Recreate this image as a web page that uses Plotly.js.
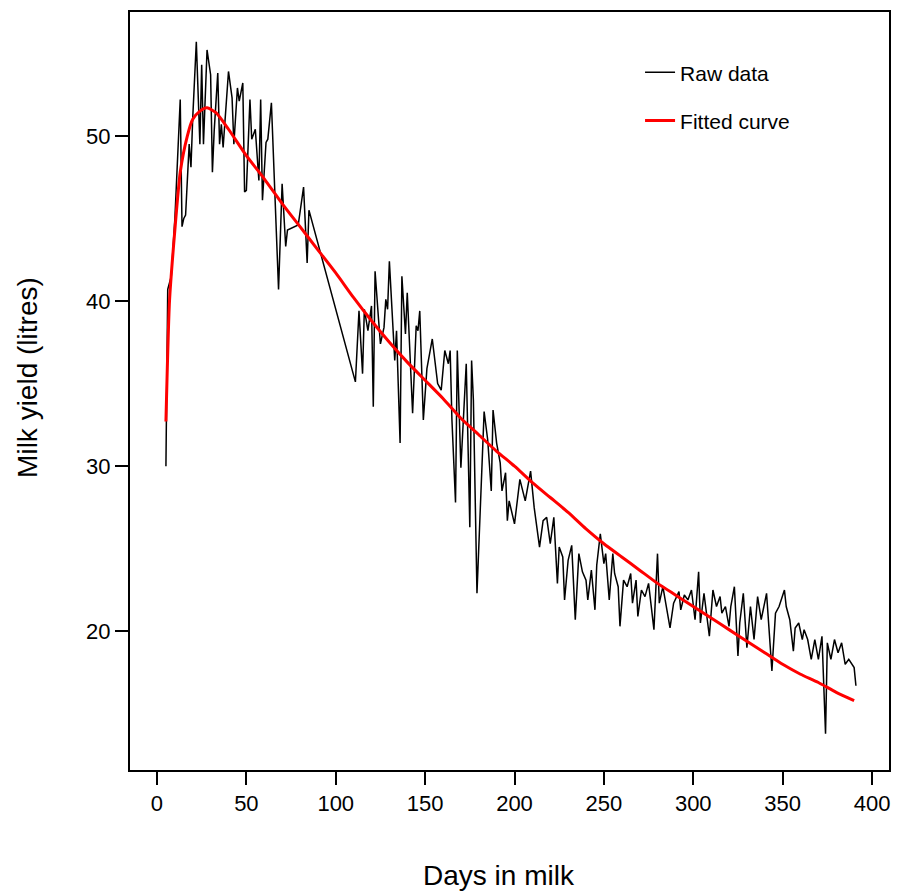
<!DOCTYPE html>
<html>
<head>
<meta charset="utf-8">
<script src="https://cdn.plot.ly/plotly-3.0.1.min.js"></script>
<style>html,body{margin:0;padding:0;background:#fff;}#chart{width:899px;height:896px;}</style>
</head>
<body>
<div id="chart"></div>
<script>
// Raw daily milk yield
var rawDays = [5,6,8,10,13,14,15,16,18,19,20,22,24,25,26,28,30,31,32,34,35,36,37,40,42,43,45,46,48,49,50,52,53,55,57,58,59,61,62,64,68,70,72,73,79,82,84,85,
111,113,115,116,118,120,121,122,124,125,127,128,129,130,133,134,136,137,139,140,143,145,146,147,149,151,154,156,157,159,161,163,164,165,167,168,170,173,175,176,177,179,
182,183,185,187,188,190,192,193,195,196,197,200,203,206,209,211,214,216,218,220,222,224,225,227,228,230,232,234,236,238,240,241,243,245,246,248,250,251,253,255,256,258,259,
261,263,265,266,268,269,271,273,275,278,280,281,283,287,289,292,293,295,297,299,301,303,304,306,307,309,311,313,315,316,318,320,321,323,325,326,328,330,332,334,336,338,341,
344,346,348,351,352,354,356,357,359,361,362,364,366,368,370,372,374,375,377,379,381,383,385,387,390,391];
var rawYield = [30.0,40.7,41.5,45.0,52.2,44.5,45.0,45.2,49.5,48.1,51.1,55.7,49.5,54.3,49.5,55.2,53.7,47.8,50.3,53.8,49.5,50.7,49.3,53.9,52.3,49.5,52.9,52.1,53.2,46.6,46.7,52.2,49.8,50.4,47.3,52.2,46.1,49.6,49.8,52.0,40.7,47.1,43.3,44.3,44.6,46.9,42.3,45.5,
35.1,39.4,35.6,39.5,38.2,39.7,33.6,41.8,38.8,37.4,38.4,40.1,39.5,42.4,36.4,38.2,31.4,41.5,38.0,40.5,33.2,38.5,38.2,39.4,32.8,35.9,37.7,36.0,35.0,34.6,37.0,36.2,37.0,32.8,27.8,37.0,29.9,36.2,26.3,36.4,34.0,22.3,
30.6,33.3,31.6,28.5,33.4,31.4,30.2,28.5,29.6,26.7,27.9,26.5,29.2,27.9,29.7,27.5,25.1,26.7,26.9,25.3,26.9,22.9,25.1,24.5,21.9,24.3,25.2,20.7,24.7,23.6,23.1,21.9,23.7,21.3,24.0,25.9,24.1,24.7,21.9,24.7,23.5,22.7,20.3,
23.1,22.7,23.5,21.7,23.1,20.9,22.5,22.1,22.9,20.1,24.7,21.7,22.7,20.2,21.7,22.4,21.3,22.2,21.9,22.5,20.7,23.6,20.5,22.3,21.5,19.7,22.5,21.5,22.1,21.1,21.5,20.3,21.5,22.7,18.5,20.5,22.3,19.0,21.5,19.5,22.1,20.7,22.3,
17.6,21.1,21.5,22.5,21.5,20.7,18.8,20.2,20.5,19.5,20.1,19.5,18.3,19.5,18.3,19.7,13.8,19.3,18.3,19.5,18.7,19.3,18.0,18.3,17.8,16.7];

// Fitted lactation curve
var fitDays  = [5,7,10,13,17,20,24,28,33,40,50,60,70,80,90,100,110,120,130,140,150,160,170,180,190,200,210,220,230,240,250,260,270,280,290,300,310,320,330,340,350,360,370,380,390];
var fitYield = [32.7,40.0,44.3,47.8,50.0,51.0,51.5,51.7,51.4,50.4,48.8,47.4,45.9,44.5,43.1,41.7,40.2,38.8,37.5,36.3,35.2,34.1,32.9,31.9,30.9,30.0,29.0,28.1,27.2,26.2,25.3,24.5,23.7,22.9,22.2,21.5,20.8,20.1,19.4,18.7,18.0,17.4,16.9,16.3,15.8];

var xTicks = [0,50,100,150,200,250,300,350,400];
var yTicks = [20,30,40,50];

var traces = [
  {x: rawDays, y: rawYield, type: 'scatter', mode: 'lines', name: 'Raw data',
   line: {color: '#000000', width: 1.5}, legendgroup: 'a'},
  {x: fitDays, y: fitYield, type: 'scatter', mode: 'lines', name: 'Fitted curve',
   line: {color: '#ff0000', width: 3, shape: 'spline', smoothing: 0.6}, legendgroup: 'b'}
];

var fontFam = 'Arial, "Liberation Sans", sans-serif';
var layout = {
  width: 899, height: 896,
  margin: {l: 130, r: 10, t: 12, b: 126},
  paper_bgcolor: '#ffffff', plot_bgcolor: '#ffffff',
  font: {family: fontFam, color: '#000000', size: 21},
  showlegend: true,
  legend: {x: 0.672, y: 0.947, xanchor: 'left', yanchor: 'top', bgcolor: 'rgba(0,0,0,0)',
           font: {size: 21, family: fontFam}, traceorder: 'grouped', tracegroupgap: 18},
  xaxis: {range: [-15.1, 409.5], tickvals: xTicks, ticktext: xTicks.map(String),
          ticks: 'outside', ticklen: 13, tickwidth: 2, tickcolor: '#000',
          showline: true, linecolor: '#000', linewidth: 2, mirror: true,
          showgrid: false, zeroline: false,
          tickfont: {size: 22, family: fontFam}},
  yaxis: {range: [11.6, 57.5], tickvals: yTicks, ticktext: yTicks.map(String),
          ticks: 'outside', ticklen: 13, tickwidth: 2, tickcolor: '#000',
          showline: true, linecolor: '#000', linewidth: 2, mirror: true,
          showgrid: false, zeroline: false,
          tickfont: {size: 22, family: fontFam}},
  annotations: [
    {text: 'Days in milk', xref: 'paper', yref: 'paper', x: 0.486, y: -0.139,
     xanchor: 'center', yanchor: 'middle', showarrow: false,
     font: {size: 28, family: fontFam, color: '#000'}},
    {text: 'Milk yield (litres)', xref: 'paper', yref: 'paper', x: -0.135, y: 0.518,
     xanchor: 'center', yanchor: 'middle', textangle: -90, showarrow: false,
     font: {size: 28, family: fontFam, color: '#000'}}
  ]
};

Plotly.newPlot('chart', traces, layout, {staticPlot: true, displayModeBar: false});
</script>
</body>
</html>
